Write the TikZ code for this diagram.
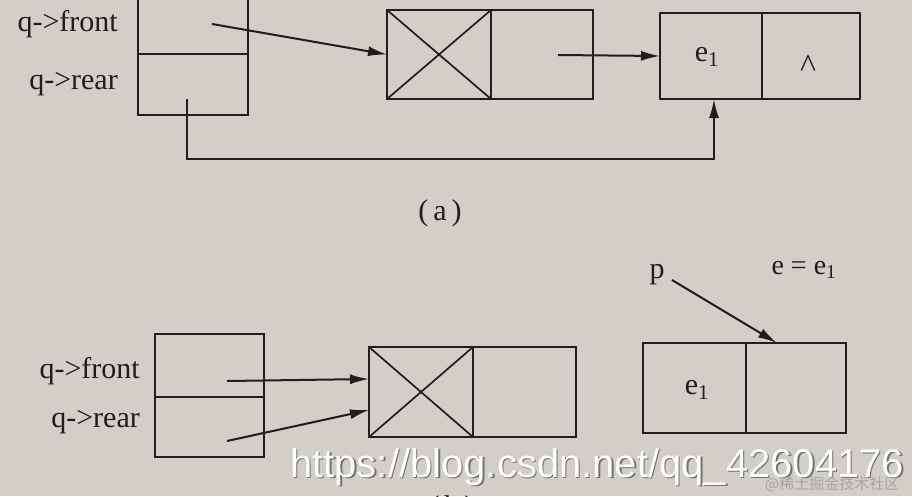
\documentclass[tikz,border=0pt]{standalone}
\usepackage{fontspec}
\setmainfont{Liberation Serif}
\newfontfamily\wmfont{Liberation Sans}
\newfontfamily\cjkfont{Noto Sans CJK SC}
\usetikzlibrary{arrows.meta,calc}
\definecolor{paper}{RGB}{210,206,200}
\definecolor{ink}{RGB}{30,30,30}
\begin{document}
\begin{tikzpicture}[x=1pt,y=-1pt,
  cell/.style={draw=ink,line width=2pt,inner sep=0pt,outer sep=0pt},
  lbl/.style={text=ink,inner sep=0pt,font=\fontsize{30}{34}\selectfont},
  ptr/.style={draw=ink,line width=2pt,-{Latex[length=19pt,width=10pt]}},
  cross/.style={draw=ink,line width=1.7pt}]
\fill[paper] (0,0) rectangle (912,496);
\useasboundingbox (0,0) rectangle (912,496);
% ---------- (a) ----------
\node[cell,minimum width=110pt,minimum height=64pt] (fa) at (193,22) {};
\node[cell,minimum width=110pt,minimum height=61pt] (ra) at (193,84.5) {};
\node[lbl,anchor=east] (lfa) at (118,24) {q->front};
\node[lbl,anchor=east] (lra) at (118,84) {q->rear};
\node[cell,minimum width=104pt,minimum height=89pt] (xa) at (439,54.5) {};
\node[cell,minimum width=102pt,minimum height=89pt] (na) at (542,54.5) {};
\draw[cross] (xa.north west) -- (xa.south east) (xa.south west) -- (xa.north east);
\node[cell,minimum width=102pt,minimum height=86pt] (ea) at (711,56) {};
\node[cell,minimum width=98pt,minimum height=86pt] (ha) at (811,56) {};
\node[lbl] (e1a) at (707,57) {e\textsubscript{1}};
\node[lbl,font=\fontsize{34}{36}\selectfont] (hat) at (808,66) {\textasciicircum};
\coordinate (sfa) at (212,24);
\coordinate (sna) at (558,55);
\coordinate (sra) at (187,99);
\coordinate (tra) at (714,99);
\draw[ptr] (sfa) -- (xa.west);
\draw[ptr] (sna) -- (ea.west);
\draw[ptr] (sra) -- (187,159) -- (714,159) -- (tra);
\node[lbl] (capa) at (440,213) {(\,a\,)};
% ---------- (b) ----------
\node[cell,minimum width=109pt,minimum height=63pt] (fb) at (209.5,365.5) {};
\node[cell,minimum width=109pt,minimum height=60pt] (rb) at (209.5,427) {};
\node[lbl,anchor=east] (lfb) at (140,371) {q->front};
\node[lbl,anchor=east] (lrb) at (140,422) {q->rear};
\node[cell,minimum width=104pt,minimum height=90pt] (xb) at (421,392) {};
\node[cell,minimum width=103pt,minimum height=90pt] (nb) at (524.5,392) {};
\draw[cross] (xb.north west) -- (xb.south east) (xb.south west) -- (xb.north east);
\coordinate (sfb) at (227,381);
\coordinate (srb) at (227,441);
\coordinate (tfb) at (369,379);
\coordinate (trb) at (369,410);
\draw[ptr] (sfb) -- (tfb);
\draw[ptr] (srb) -- (trb);
\node[cell,minimum width=103pt,minimum height=90pt] (eb) at (694.5,388) {};
\node[cell,minimum width=100pt,minimum height=90pt] (hb) at (796,388) {};
\node[lbl] (e1b) at (697,390) {e\textsubscript{1}};
\node[lbl] (p) at (657,275) {p};
\coordinate (sp) at (672,280);
\coordinate (tp) at ($(hb.north west)!0.31!(hb.north east)$);
\draw[ptr] (sp) -- (tp);
\node[lbl,font=\fontsize{28}{30}\selectfont] (eq) at (804,270) {e = e\textsubscript{1}};
\node[lbl] (capb) at (452,509) {(\,b\,)};
% ---------- watermark ----------
\node[anchor=base west,inner sep=0pt,text=black!55,font=\wmfont\fontsize{40}{42}\selectfont] (wms) at (291.5,478.5) {https://blog.csdn.net/qq\_42604176};
\node[anchor=base west,inner sep=0pt,text=white,font=\wmfont\fontsize{40}{42}\selectfont] (wm) at (290,477) {https://blog.csdn.net/qq\_42604176};
\node[anchor=base west,inner sep=0pt,text=black!35,font=\cjkfont\fontsize{15}{16}\selectfont] (wm2) at (765,489) {@稀土掘金技术社区};
\end{tikzpicture}
\end{document}
